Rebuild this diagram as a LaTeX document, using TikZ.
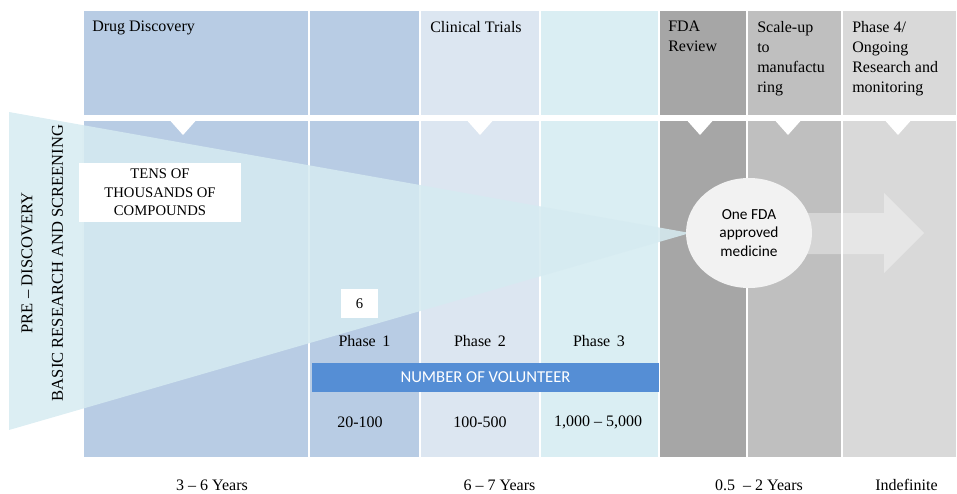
\documentclass[tikz,border=0pt]{standalone}
\usepackage{fontspec}
\setmainfont{Liberation Serif}
\newfontfamily\tnr{Liberation Serif}
\newfontfamily\calib{Carlito}
\usetikzlibrary{shapes.geometric}
\definecolor{cdrug}{HTML}{B8CCE4}
\definecolor{cclin}{HTML}{DCE6F1}
\definecolor{ccyan}{HTML}{DAEEF3}
\definecolor{cfda}{HTML}{A6A6A6}
\definecolor{cscale}{HTML}{BFBFBF}
\definecolor{cph4}{HTML}{D9D9D9}
\definecolor{cfun}{RGB}{214,235,241}
\definecolor{cbar}{HTML}{558ED5}
\definecolor{ccirc}{HTML}{F2F2F2}
\begin{document}
\begin{tikzpicture}[x=0.75pt,y=-0.75pt,
  colbox/.style={draw=white,line width=1pt},
  wtri/.style={fill=white,draw=none},
  serif/.style={font=\tnr\fontsize{12}{15}\selectfont,inner sep=0pt},
  head/.style={serif,anchor=north west,align=left},
  small/.style={font=\tnr\fontsize{11}{13.9}\selectfont},
  sidetext/.style={font=\tnr\fontsize{12.4}{15}\selectfont,inner sep=0pt,rotate=90},
  whitebox/.style={fill=white,draw=none,inner sep=0pt,align=center}]
\useasboundingbox (0,0) rectangle (957,493);
% columns, top band
\filldraw[fill=cdrug,colbox] (83,10) rectangle (309,116);
\filldraw[fill=cdrug,colbox] (309,10) rectangle (420,116);
\filldraw[fill=cclin,colbox] (420,10) rectangle (540,116);
\filldraw[fill=ccyan,colbox] (540,10) rectangle (659,116);
\filldraw[fill=cfda,colbox] (659,10) rectangle (747,116);
\filldraw[fill=cscale,colbox] (747,10) rectangle (842,116);
\filldraw[fill=cph4,colbox] (842,10) rectangle (957,116);
% columns, lower band
\filldraw[fill=cdrug,colbox] (83,120) rectangle (309,458);
\filldraw[fill=cdrug,colbox] (309,120) rectangle (420,458);
\filldraw[fill=cclin,colbox] (420,120) rectangle (540,458);
\filldraw[fill=ccyan,colbox] (540,120) rectangle (659,458);
\filldraw[fill=cfda,colbox] (659,120) rectangle (747,458);
\filldraw[fill=cscale,colbox] (747,120) rectangle (842,458);
\filldraw[fill=cph4,colbox] (842,120) rectangle (957,458);
% white notches
\foreach \cx in {183,480,700,788,898}
  \fill[wtri] (\cx-16,117) -- (\cx+16,117) -- (\cx,135) -- cycle;
% funnel
\fill[cfun,opacity=0.86] (9,112) -- (690,233) -- (9,430) -- cycle;
% arrow
\fill[white,opacity=0.35] (760,213) -- (884,213) -- (884,193) -- (924,233) -- (884,273) -- (884,254) -- (760,254) -- cycle;
% circle
\node[ellipse,fill=ccirc,draw=none,minimum width=94.5pt,minimum height=82.5pt,inner sep=0pt,
  align=center,font=\calib\fontsize{11.5}{14}\selectfont] (med) at (749,233) {One FDA\\approved\\medicine};
% headings
\node[head] (dd) at (92,21) {Drug Discovery};
\node[head] (ct) at (430,21) {Clinical Trials};
\node[head] (fda) at (668,21) {FDA\\Review};
\node[head] (su) at (757,21) {Scale-up\\to\\manufactu\\ring};
\node[head] (p4) at (852,21) {Phase 4/\\Ongoing\\Research and\\monitoring};
% left texts
\node[sidetext] (pre) at (27,263) {PRE – DISCOVERY};
\node[sidetext] (basic) at (57.5,263) {BASIC RESEARCH AND SCREENING};
% boxes
\node[whitebox,small,minimum width=121.5pt,minimum height=44.25pt] (tens) at (160,192.5) {TENS OF\\THOUSANDS OF\\COMPOUNDS};
\node[whitebox,small,minimum width=27.75pt,minimum height=21.75pt] (six) at (359.5,303.5) {6};
% phases
\node[serif] (ph1) at (364.5,341) {Phase\ \,1};
\node[serif] (ph2) at (480,341) {Phase\ \,2};
\node[serif] (ph3) at (599,341) {Phase\ \,3};
% bar
\node[fill=cbar,draw=none,minimum width=260.25pt,minimum height=21.75pt,inner sep=0pt,
  text=white,font=\calib\fontsize{12.5}{14}\selectfont] (bar) at (485.5,377.5) {NUMBER OF VOLUNTEER};
% volunteers
\node[serif] (v1) at (360,422) {20-100};
\node[serif] (v2) at (480,422) {100-500};
\node[serif] (v3) at (598,422) {1,000 – 5,000};
% durations
\node[serif] (y1) at (212,485) {3 – 6 Years};
\node[serif] (y2) at (499.5,485) {6 – 7 Years};
\node[serif] (y3) at (759,485) {0.5 \ – 2 Years};
\node[serif] (y4) at (906.5,485) {Indefinite};
\end{tikzpicture}
\end{document}
